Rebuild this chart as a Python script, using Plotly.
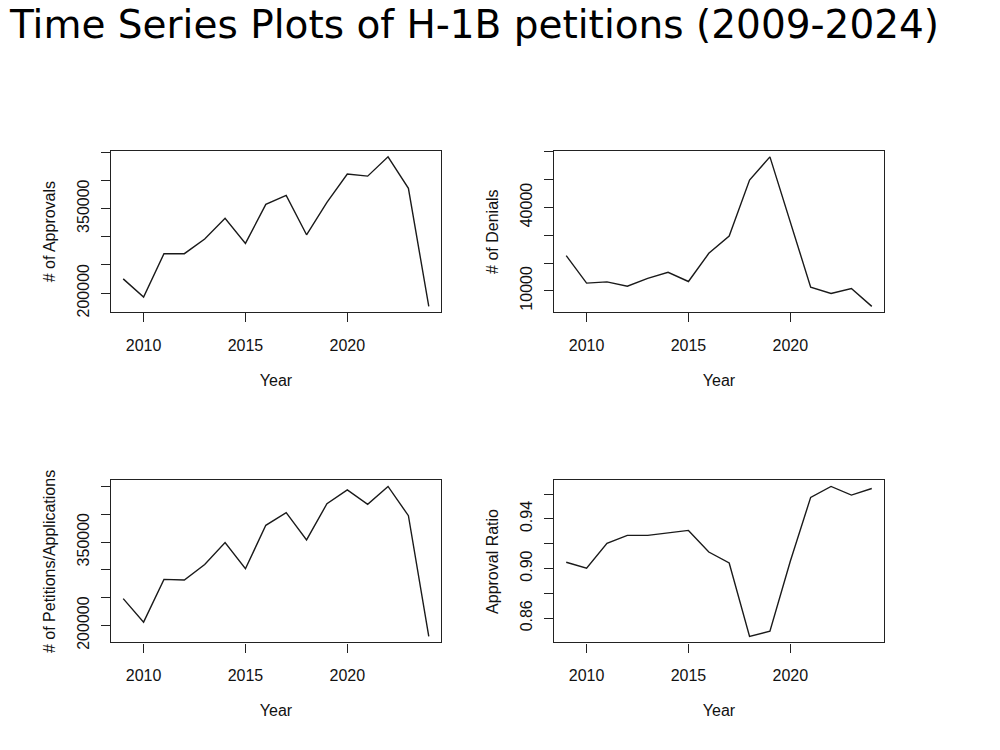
import plotly.graph_objects as go

years = list(range(2009, 2025))
approvals = [225300, 192900, 270000, 270000, 295900, 332900, 288200, 357600,
             373500, 303500, 361000, 411200, 407600, 441800, 385900, 176500]
denials = [22650, 12750, 13200, 11670, 14500, 16680, 13340, 23480,
           29690, 49860, 58210, 35180, 11310, 9050, 10840, 4390]
petitions = [248300, 206000, 282900, 281700, 309800, 349200, 302000, 380200,
             402900, 353900, 419000, 444000, 417800, 450000, 397500, 180300]
ratio = [0.9051, 0.9003, 0.9203, 0.9267, 0.9267, 0.9290, 0.9307, 0.9133,
         0.9045, 0.8453, 0.8496, 0.9059, 0.9573, 0.9661, 0.9592, 0.9645]

panels = [
    dict(y=approvals, title="# of Approvals",
         ticks=[200000, 250000, 300000, 350000, 400000, 450000],
         labels=["200000", "", "", "350000", "", ""],
         dx=[0.111, 0.441], dy=[1 - 315.3 / 750, 1 - 152.3 / 750]),
    dict(y=denials, title="# of Denials",
         ticks=[10000, 20000, 30000, 40000, 50000, 60000],
         labels=["10000", "", "", "40000", "", ""],
         dx=[0.554, 0.884], dy=[1 - 315.3 / 750, 1 - 152.3 / 750]),
    dict(y=petitions, title="# of Petitions/Applications",
         ticks=[200000, 250000, 300000, 350000, 400000, 450000],
         labels=["200000", "", "", "350000", "", ""],
         dx=[0.111, 0.441], dy=[1 - 648.5 / 750, 1 - 485 / 750]),
    dict(y=ratio, title="Approval Ratio",
         ticks=[0.86, 0.88, 0.90, 0.92, 0.94, 0.96],
         labels=["0.86", "", "0.90", "", "0.94", ""],
         dx=[0.554, 0.884], dy=[1 - 648.5 / 750, 1 - 485 / 750]),
]

FONT = "Liberation Sans, Arial, sans-serif"
AXFONT = dict(family=FONT, size=16, color="#111")
fig = go.Figure()
layout = dict(
    width=1000, height=750,
    margin=dict(l=0, r=0, t=0, b=0),
    paper_bgcolor="white", plot_bgcolor="white",
    showlegend=False,
    font=dict(family=FONT, size=16, color="#111"),
    title=dict(text="Time Series Plots of H-1B petitions (2009-2024)",
               x=0.01, xanchor="left", y=1 - 24 / 750, yanchor="middle",
               font=dict(family="DejaVu Sans, sans-serif", size=39, color="black")),
)

xpad = 0.04 * (years[-1] - years[0])
for i, p in enumerate(panels):
    n = "" if i == 0 else str(i + 1)
    fig.add_trace(go.Scatter(x=years, y=p["y"], mode="lines",
                             line=dict(color="#1a1a1a", width=1.4),
                             xaxis="x" + n, yaxis="y" + n))
    lo, hi = min(p["y"]), max(p["y"])
    ypad = 0.04 * (hi - lo)
    common = dict(showline=True, linecolor="#222", linewidth=1.2, mirror=True,
                  ticks="outside", ticklen=9, tickcolor="#222", tickwidth=1.2,
                  showgrid=False, zeroline=False, tickfont=AXFONT)
    layout["xaxis" + n] = dict(
        domain=p["dx"], anchor="y" + n,
        range=[years[0] - xpad, years[-1] + xpad],
        tickvals=[2010, 2015, 2020],
        title=dict(text="Year", standoff=22, font=AXFONT),
        ticklabelstandoff=9,
        **common)
    layout["yaxis" + n] = dict(
        domain=p["dy"], anchor="x" + n,
        range=[lo - ypad, hi + ypad],
        tickvals=p["ticks"], ticktext=p["labels"], tickangle=-90,
        title=dict(text=p["title"], standoff=14, font=AXFONT),
        ticklabelstandoff=6,
        **common)

fig.update_layout(**layout)
fig.write_html("out.html")
